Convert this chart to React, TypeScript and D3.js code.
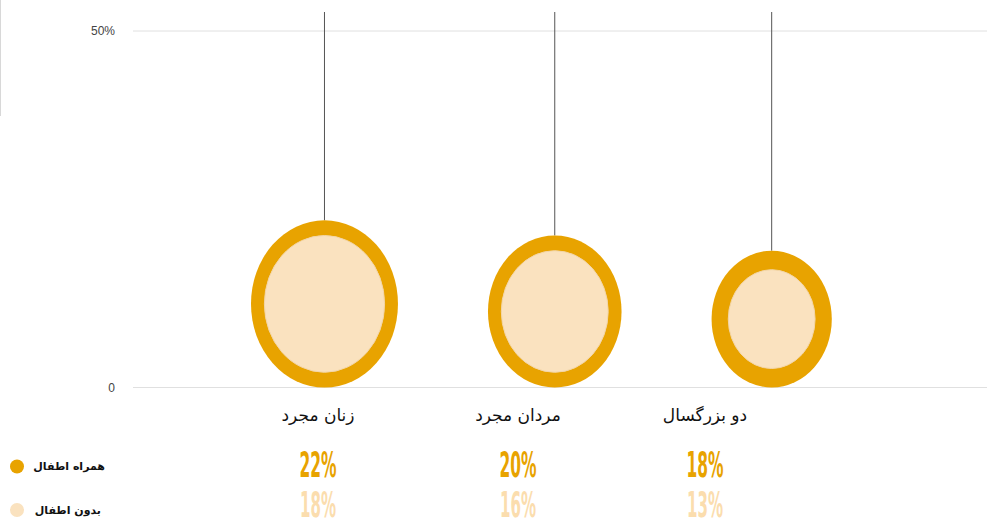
import React from "react";
import * as d3 from "d3";

const categories = ["زنان مجرد", "مردان مجرد", "دو بزرگسال"];
const withChildren = [22, 20, 18];
const withoutChildren = [18, 16, 13];
const seriesNames = ["همراه اطفال", "بدون اطفال"];
const yTicks = [0, 50];

const W = 987;
const H = 521;
const ORANGE = "#E8A300";
const PEACH = "#FAE2BF";
const PEACH_TEXT = "#FBDDAE";

export default function App() {
  const y = d3.scaleLinear().domain([0, 50]).range([387.5, 31]);
  const rxS = d3.scaleLinear().domain([0, 1]).range([0, 3.34]);
  const ryS = d3.scaleLinear().domain([0, 1]).range([0, 3.8]);
  const labelX = d3.scaleOrdinal<string, number>().domain(categories).range([318, 518, 705]);

  // pack ellipses horizontally with equal gaps
  const gap = 90;
  let cursor = 251;
  const centers = withChildren.map((v) => {
    const rx = rxS(v);
    const cx = cursor + rx;
    cursor = cx + rx + gap;
    return cx;
  });

  const pctFont = "'Liberation Sans Narrow', 'DejaVu Sans Condensed', 'Roboto', sans-serif";
  const legendY = [466.5, 510];

  return (
    <svg
      width={W}
      height={H}
      style={{ position: "absolute", left: 0, top: 0, background: "#fff" }}
      fontFamily="'DejaVu Sans', sans-serif"
    >
      <line x1={0.5} x2={0.5} y1={0} y2={116} stroke="#d8d8d8" strokeWidth={1} />
      {yTicks.map((t) => (
        <g key={t}>
          <line x1={133} x2={W} y1={y(t)} y2={y(t)} stroke="#e0e0e0" strokeWidth={1} />
          <text
            x={115}
            y={y(t)}
            dy="0.35em"
            textAnchor="end"
            fontSize={12}
            fill="#444"
            fontFamily="'Liberation Sans', Arial, sans-serif"
          >
            {t === 0 ? "0" : `${t}%`}
          </text>
        </g>
      ))}

      {categories.map((c, i) => {
        const cx = centers[i];
        const ryO = ryS(withChildren[i]);
        const cy = y(0) - ryO;
        return (
          <g key={c}>
            <line x1={cx} x2={cx} y1={12} y2={cy - ryO} stroke="#555" strokeWidth={1} />
            <ellipse cx={cx} cy={cy} rx={rxS(withChildren[i])} ry={ryO} fill={ORANGE} />
            <ellipse
              cx={cx}
              cy={cy}
              rx={rxS(withoutChildren[i])}
              ry={ryS(withoutChildren[i])}
              fill={PEACH}
              stroke="#f3d6a8"
              strokeWidth={1}
            />
          </g>
        );
      })}

      {categories.map((c, i) => (
        <g key={"lab" + c}>
          <text
            x={labelX(c)}
            y={421}
            textAnchor="middle"
            fontSize={17}
            fill="#111"
            fontFamily="'DejaVu Sans', sans-serif"
          >
            {c}
          </text>
          <text
            x={labelX(c)}
            y={477}
            textAnchor="middle"
            fontSize={35}
            fontWeight="bold"
            fill={ORANGE}
            fontFamily={pctFont}
            textLength={37}
            lengthAdjust="spacingAndGlyphs"
          >
            {withChildren[i]}%
          </text>
          <text
            x={labelX(c)}
            y={517}
            textAnchor="middle"
            fontSize={35}
            fontWeight="bold"
            fill={PEACH_TEXT}
            fontFamily={pctFont}
            textLength={36}
            lengthAdjust="spacingAndGlyphs"
          >
            {withoutChildren[i]}%
          </text>
        </g>
      ))}

      {seriesNames.map((s, i) => (
        <g key={s}>
          <circle cx={17} cy={legendY[i]} r={7} fill={i === 0 ? ORANGE : PEACH} />
          <text
            x={i === 0 ? 105 : 101}
            y={legendY[i]}
            dy="0.35em"
            textAnchor="end"
            fontSize={11}
            fontWeight="bold"
            fill="#111"
          >
            {s}
          </text>
        </g>
      ))}
    </svg>
  );
}
